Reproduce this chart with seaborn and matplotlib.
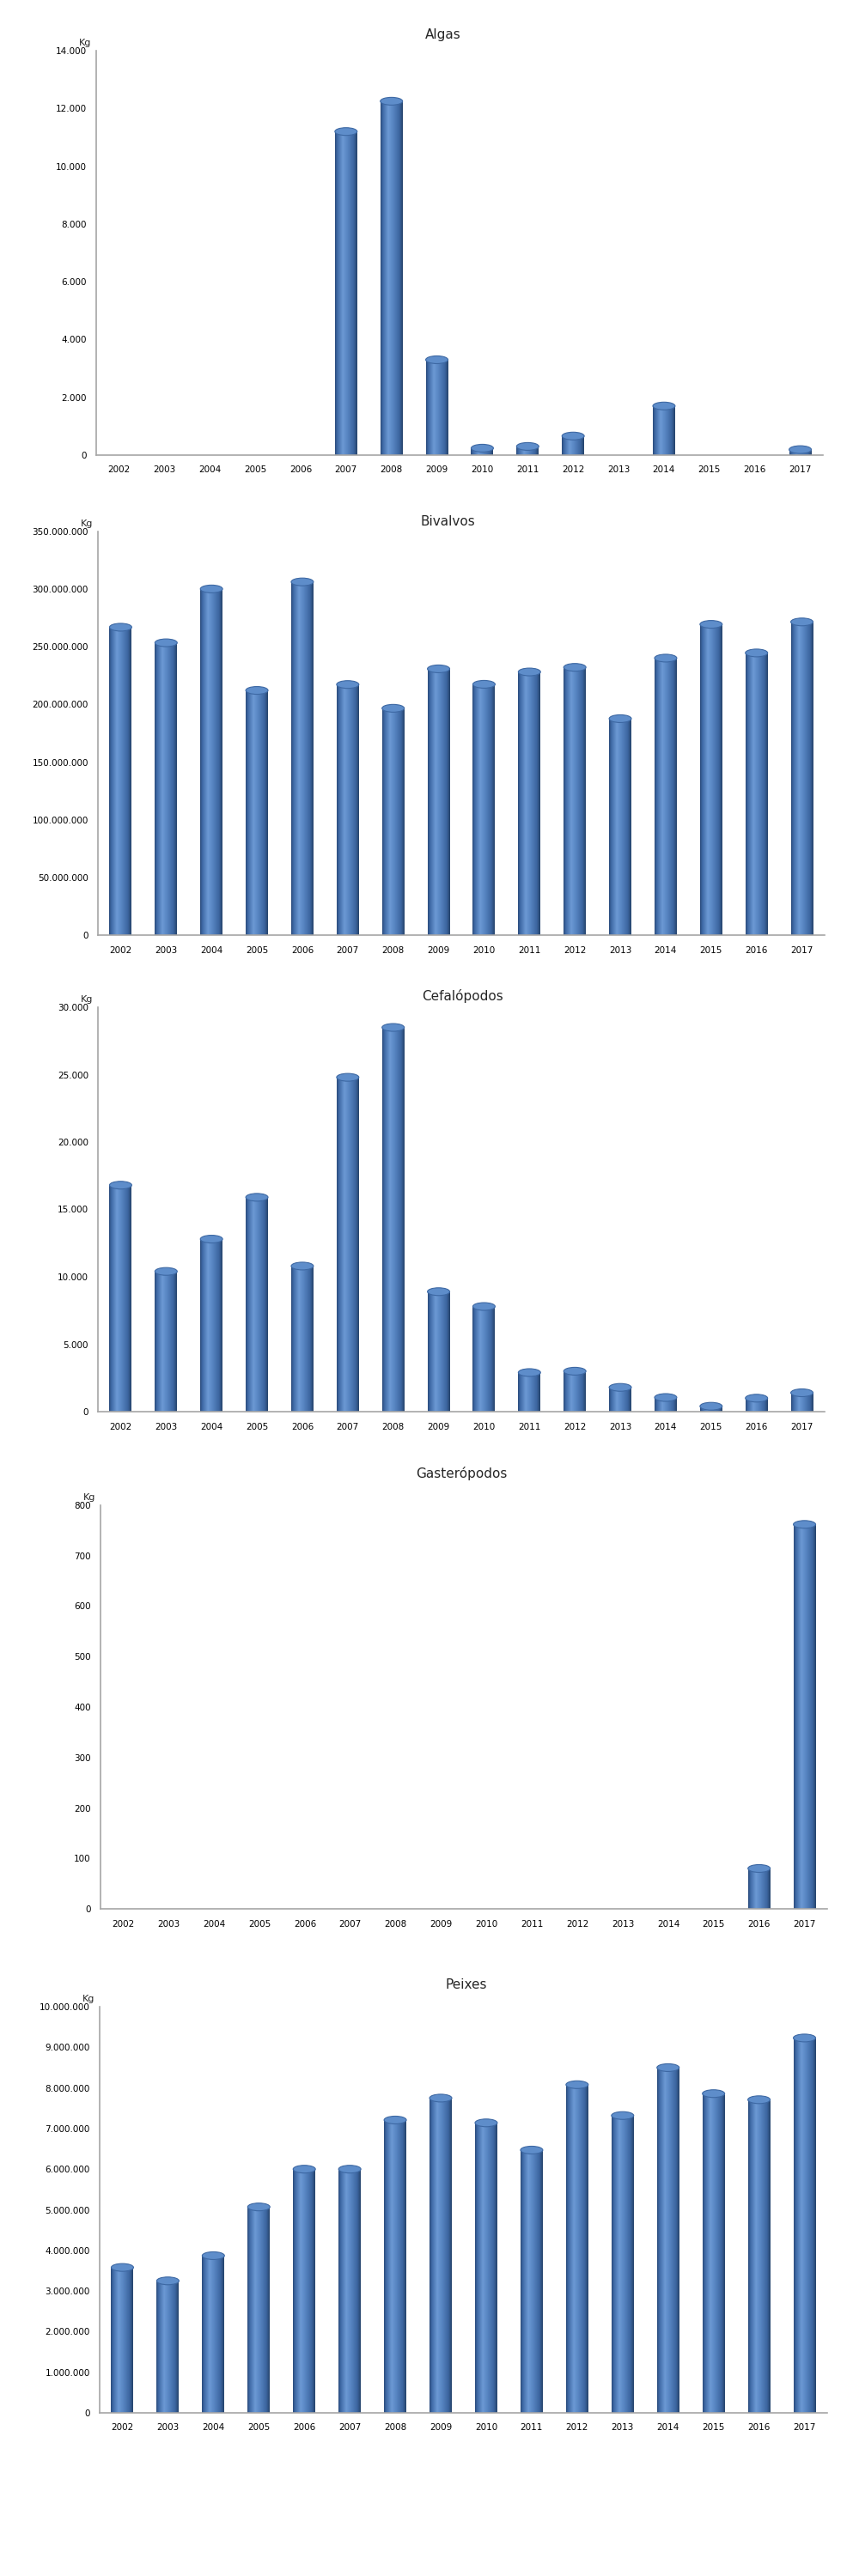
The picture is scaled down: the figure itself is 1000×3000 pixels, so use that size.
import numpy as np
import pandas as pd
import matplotlib
matplotlib.use("Agg")
import matplotlib.pyplot as plt
import seaborn as sns
from matplotlib.patches import Ellipse
from matplotlib.colors import LinearSegmentedColormap
from matplotlib.ticker import FuncFormatter, MultipleLocator, FixedLocator

years = ["2002", "2003", "2004", "2005", "2006", "2007", "2008", "2009",
         "2010", "2011", "2012", "2013", "2014", "2015", "2016", "2017"]

algas = [0, 0, 0, 0, 0, 11200, 12250, 3300, 240, 300, 660, 0, 1700, 0, 0, 190]
bivalvos = [267000000, 253500000, 300200000, 212200000, 306300000, 217300000,
            196700000, 230900000, 217500000, 228200000, 232200000, 187700000,
            240200000, 269500000, 244700000, 271600000]
cefalopodos = [16800, 10400, 12800, 15900, 10800, 24800, 28500, 8900,
               7800, 2900, 3000, 1800, 1050, 400, 1000, 1400]
gasteropodos = [0, 0, 0, 0, 0, 0, 0, 0, 0, 0, 0, 0, 0, 0, 80, 762]
peixes = [3580000, 3250000, 3870000, 5070000, 6000000, 6000000, 7210000,
          7750000, 7140000, 6470000, 8080000, 7320000, 8500000, 7860000,
          7710000, 9230000]

titles = ["Algas", "Bivalvos", "Cefalópodos", "Gasterópodos", "Peixes"]
series = [algas, bivalvos, cefalopodos, gasteropodos, peixes]
y_max = [14000, 350000000, 30000, 800, 10000000]
y_step = [2000, 50000000, 5000, 100, 1000000]

# layout in pixels of the 1000x3000 figure: left, right, top, bottom, title x, title y
layout = [
    (112, 958, 59, 530, 516, 41),
    (114, 960, 619, 1089, 521, 608),
    (114, 960, 1173, 1644, 538, 1160),
    (117, 963, 1753, 2223, 537, 1716),
    (116, 963, 2337, 2810, 543, 2311),
]

W, H = 1000, 3000
sns.set_style("white")
plt.rcParams["font.family"] = ["DejaVu Sans"]

fig = plt.figure(figsize=(W / 100, H / 100), dpi=100)
fig.patch.set_facecolor("white")

axis_grey = "#A6A6A6"
cyl = LinearSegmentedColormap.from_list("cyl", [
    (0.0, "#2B4B7A"), (0.10, "#3E69A5"), (0.35, "#6C99D4"),
    (0.55, "#5886C3"), (0.85, "#3C659F"), (1.0, "#25426A")])
grad = np.linspace(0, 1, 256)[None, :]


def fmt(v, pos):
    return f"{int(round(v)):,}".replace(",", ".")


for title, vals, ymax, step, (l, r, t, b, tx, ty) in zip(titles, series, y_max, y_step, layout):
    ax = fig.add_axes([l / W, 1 - b / H, (r - l) / W, (b - t) / H])
    df = pd.DataFrame({"ano": years, "kg": vals})
    sns.barplot(data=df, x="ano", y="kg", ax=ax, color="#4F81BD",
                saturation=1, width=0.49, errorbar=None)

    ax_h_px = b - t
    cap_h = 9 / ax_h_px * ymax
    for patch, v in zip(ax.patches, vals):
        x0 = patch.get_x()
        w = patch.get_width()
        patch.set_facecolor("none")
        patch.set_edgecolor("none")
        if v <= 0:
            continue
        im = ax.imshow(grad, cmap=cyl, extent=(x0, x0 + w, 0, v),
                       aspect="auto", zorder=2, interpolation="bilinear")
        im.set_clip_path(patch)
        ax.add_patch(Ellipse((x0 + w / 2, v), w, cap_h, facecolor="#5E8DCA",
                             edgecolor="#3D68A3", linewidth=0.8, zorder=3))

    ax.set_xlim(-0.5, len(years) - 0.5)
    ax.set_ylim(0, ymax)
    ax.yaxis.set_major_locator(MultipleLocator(step))
    ax.yaxis.set_major_formatter(FuncFormatter(fmt))
    ax.xaxis.set_minor_locator(FixedLocator(np.arange(-0.5, len(years), 1.0)))
    ax.tick_params(axis="x", which="major", length=0, pad=9, labelsize=7.5, colors="black")
    ax.tick_params(axis="x", which="minor", length=4, width=1, direction="out", color=axis_grey)
    ax.tick_params(axis="y", which="major", length=6, width=1, direction="inout",
                   color=axis_grey, pad=5, labelsize=7.5, labelcolor="black")
    ax.set_xlabel("")
    ax.set_ylabel("")
    for side in ["top", "right"]:
        ax.spines[side].set_visible(False)
    for side in ["left", "bottom"]:
        ax.spines[side].set_color(axis_grey)
        ax.spines[side].set_linewidth(1.2)
    ax.annotate("Kg", xy=(0, 1), xycoords="axes fraction", xytext=(-9, 3),
                textcoords="offset points", ha="center", va="bottom", fontsize=8)
    fig.text(tx / W, 1 - ty / H, title, ha="center", va="center", fontsize=11)

fig.savefig("out.png", dpi=100, facecolor="white")
